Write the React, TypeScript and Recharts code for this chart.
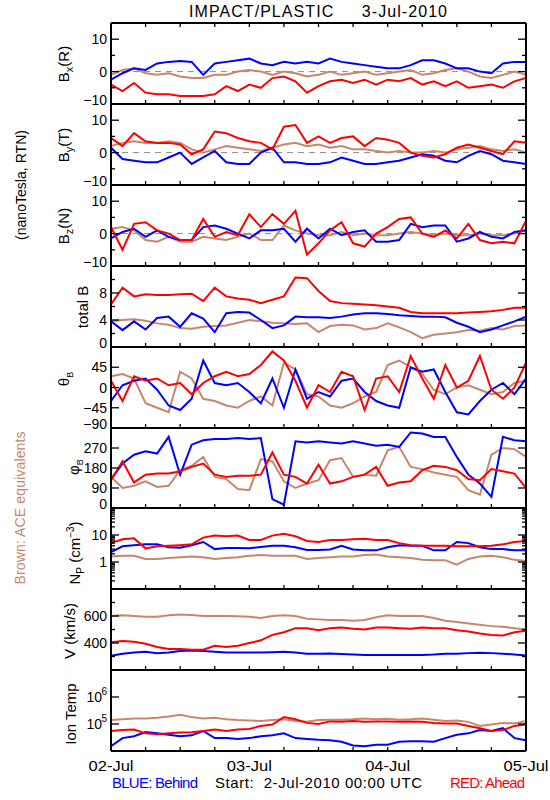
import React from 'react';
import { LineChart, Line, XAxis, YAxis, ReferenceLine } from 'recharts';

// time axis: hours after 2-Jul-2010 00:00 UTC
const hours = [0, 2, 4, 6, 8, 10, 12, 14, 16, 18, 20, 22, 24, 26, 28, 30, 32, 34, 36, 38, 40, 42, 44, 46, 48, 50, 52, 54, 56, 58, 60, 62, 64, 66, 68, 70, 72];
const xTicks = [0, 6, 12, 18, 24, 30, 36, 42, 48, 54, 60, 66, 72];
const dayHours = [0, 24, 48, 72];
const dayLabels = ['02-Jul', '03-Jul', '04-Jul', '05-Jul'];

// Bx (R), nT
const bxBehind = [-2.5, -0.5, 1, 0.5, 2.5, 3, 3.3, 3, -1, 2.5, 3, 3.5, 4, 2.5, 2, 3, 2.5, 3, 2.5, 4, 3, 2.5, 2, 1.5, 1, 1, 2, 3.5, 3.5, 2.5, 1, 1, 0, -0.5, 2.5, 3, 3];
const bxAhead = [-4, -6, -3.5, -6.5, -7, -7, -7.5, -7.5, -7.5, -7, -4.5, -6, -4, -5, -2, -1.5, -3, -6.5, -4.5, -3, -2.5, -3.5, -2.5, -4, -2.5, -3, -2, -4, -3, -4.5, -3, -5, -4.5, -4, -5, -3, -2];
const bxAce = [-1, 0.5, 1, -0.5, -1, -0.5, -1.5, -2, -2, -1, -1, 0, 0.5, 0, -1, 0, -0.5, -1.5, -1, 0, -1, -0.5, 0, -1, -0.5, 0, 0.5, -1, -0.5, 0.5, 1, 0, -1.5, -2, -1, 0, -1];

// By (T), nT
const byBehind = [1.5, -2, -2.5, -3, -3, -1.5, 0, -3.5, -1.5, 0.5, -3, -3.5, -3.5, 0, 1.5, -3, -3, -3.5, -3.5, -3, -1.5, -2.5, -3.5, -3.5, -3, -2.5, -1.5, -0.5, -1, -2.5, -3, -1, 0.5, -0.5, -2.5, -3, -3.5];
const byAhead = [4.5, 2, 6, 3.5, 3, 3, 2.5, -0.5, 1, 6.5, 6, 4.5, 3.5, 3, 1, 8, 8.5, 3, 5, 3, 4.5, 5, 2, 4.5, 4, 3, 0, -1, -1.5, -0.5, 1.5, 2.5, 1.5, 0.5, -0.5, 3.5, 3];
const byAce = [2, 3, 3.5, 3, 3, 3.5, 3, 1, 0, 1, 2, 1.5, 1, 0.5, 1.5, 2.5, 3, 2, 2.5, 1.5, 2, 1, 1, 0.5, 0, 0.5, 0, 0, 0.5, 0, 1, 1.5, 2, 1, 0.5, 1, 0];

// Bz (N), nT
const bzBehind = [-1.5, 0.5, 1.5, -1, 1, -1, -2, -2, 2, 2.5, 1.5, 0, -1.5, 1, 1, 1.5, -2.5, 1.5, -1.5, 1.5, -0.5, 0.5, 1, -2.5, -2.5, -2, 3, 2, 2.5, 2.5, -2.5, -1.5, 0.5, -1, -1.5, 0.5, 1];
const bzAhead = [2, -5, 3, 3.5, 1, 0, -2, -2, 4.5, -1, 0.5, -0.5, 6, 2, 6, 3, 7, -6.5, -3, 1, 3.5, -3, -4, 0, 2, 4.5, 5, 0, -1, 1, -1.5, 3, -2, -3, -2.5, -3, 4];
const bzAce = [1.5, 2, 1, -2, -2.5, -1, -2.5, -2.5, -1, -1.5, -2, -1, 0, -2, -2, 2.5, 1, 0, -0.5, -0.5, 0.5, -0.5, 0, -0.5, -0.5, 0, 0.5, 0, -0.5, 0, -0.5, -0.5, 0, -0.5, -0.5, 0, 1];

// total B, nT
const btBehind = [3.8, 2.5, 3.8, 2.6, 4.3, 4.5, 3, 5, 4.2, 2.2, 5, 5.2, 5.1, 4, 2.8, 3.2, 4.5, 4.4, 4.4, 4.3, 4.5, 4.8, 5, 5, 4.9, 4.7, 4.6, 4.5, 4.5, 4.4, 3.6, 3, 2.2, 2.6, 3.2, 3.8, 4.5];
const btAhead = [6.3, 8.8, 7.5, 7.8, 7.7, 7.7, 7.8, 7.9, 6.8, 8.8, 7.5, 7.2, 7, 6.5, 7, 7.5, 10.3, 10.2, 8.3, 6.8, 6.5, 6.4, 6.3, 6.2, 6, 5.8, 5.2, 5, 5, 5, 5, 5.1, 5.2, 5.3, 5.5, 5.8, 5.8];
const btAce = [3.8, 4, 4.1, 3.9, 3.5, 3.3, 2.8, 2.7, 3, 3.1, 3.2, 3.6, 4, 3.8, 3.6, 3.5, 3.4, 3.5, 2.2, 3.1, 3.3, 3.2, 2.6, 2.8, 3.5, 2.9, 2.2, 1.3, 1.8, 2, 2.2, 2.5, 2.4, 2.8, 2.6, 3.1, 3.2];

// theta B, deg
const thBehind = [-30, 5, 15, 20, -5, -40, -50, -25, 60, 10, 5, 10, -10, -35, 20, -45, 40, -25, -10, -20, 15, 20, -10, -30, -40, -45, 45, 35, 40, -10, -55, -60, -30, -5, 10, -15, 20];
const thAhead = [15, -30, 25, 15, 20, 5, 10, -15, 10, 25, 35, 25, 30, 50, 80, 60, 15, -45, 5, -10, 35, 25, -50, 20, 25, -10, 70, 20, -25, 50, 0, 15, 70, -5, -25, 0, 55];
const thAce = [25, 30, 20, -35, -45, -55, 35, 20, -25, -30, -40, -45, -30, -20, -40, 55, 40, -15, -20, -40, -45, -35, -20, -10, 50, 60, 45, 30, -5, -15, 0, 5, -5, -15, -10, 10, 15];

// phi B, deg
const phBehind = [130, 200, 240, 255, 245, 320, 150, 285, 305, 310, 310, 315, 310, 315, 40, 15, 300, 295, 300, 295, 290, 300, 290, 280, 285, 275, 340, 335, 320, 320, 230, 150, 110, 50, 320, 305, 300];
const phAhead = [125, 210, 115, 150, 155, 155, 165, 185, 200, 150, 140, 145, 145, 150, 250, 150, 140, 110, 195, 110, 120, 140, 150, 185, 100, 115, 120, 170, 190, 185, 170, 130, 125, 175, 165, 155, 90];
const phAce = [140, 90, 100, 120, 95, 100, 170, 190, 230, 140, 130, 85, 80, 220, 210, 120, 90, 110, 125, 215, 225, 140, 150, 145, 260, 275, 185, 175, 160, 150, 140, 80, 60, 240, 270, 265, 230];

// proton density, cm^-3
const npBehind = [2.3, 3.8, 4.2, 4.5, 4.5, 3.5, 3.4, 4.2, 5.5, 3, 3.3, 3.3, 3.2, 3.6, 4, 4, 3.5, 2.8, 2.8, 2.9, 4, 2.9, 2.7, 2.7, 3.5, 4.2, 4, 4, 2.7, 2.7, 5.5, 5, 3.5, 3, 3, 2.7, 2.7];
const npAhead = [5, 7, 7.5, 3.2, 3.8, 4, 4.2, 4.5, 8, 9.5, 9, 9.5, 6.5, 6.5, 9.5, 11, 9, 6, 5.5, 6.5, 6.5, 7, 7.2, 6.5, 6.5, 5, 4.2, 4, 4, 4, 3.8, 3.8, 3.8, 4, 4.5, 5.5, 6];
const npAce = [1.6, 1.7, 1.7, 1.3, 1.3, 1.4, 1.5, 1.6, 1.5, 1.3, 1.4, 1.5, 1.7, 1.8, 1.7, 1.7, 1.7, 1.3, 1.4, 1.5, 1.6, 1.6, 1.8, 1.9, 1.6, 1.5, 1.4, 1.2, 1.15, 1.15, 0.8, 1.3, 1.6, 1.7, 1.5, 1.2, 1.1];

// bulk speed, km/s
const vBehind = [305, 320, 330, 335, 325, 330, 340, 345, 340, 335, 330, 330, 330, 330, 332, 335, 330, 320, 320, 322, 318, 315, 312, 312, 312, 312, 312, 312, 315, 320, 320, 325, 328, 325, 320, 315, 308];
const vAhead = [405, 415, 410, 395, 370, 355, 355, 350, 350, 380, 370, 380, 400, 420, 460, 480, 510, 510, 495, 510, 515, 505, 500, 515, 515, 510, 505, 515, 510, 510, 495, 485, 470, 460, 455, 480, 490];
const vAce = [600, 605, 600, 595, 595, 605, 612, 608, 600, 600, 600, 598, 595, 585, 600, 605, 600, 580, 575, 570, 570, 565, 570, 590, 605, 600, 600, 600, 585, 565, 555, 545, 535, 525, 520, 510, 500];

// ion temperature, K
const tBehind = [15000, 30000, 35000, 50000, 45000, 40000, 35000, 38000, 55000, 30000, 30000, 28000, 30000, 35000, 38000, 45000, 30000, 28000, 26000, 25000, 22000, 16000, 15000, 17000, 17000, 22000, 23000, 23000, 22000, 30000, 40000, 45000, 60000, 55000, 70000, 30000, 25000];
const tAhead = [55000, 60000, 62000, 45000, 42000, 45000, 48000, 50000, 55000, 62000, 55000, 62000, 65000, 85000, 95000, 180000, 150000, 110000, 100000, 125000, 120000, 130000, 120000, 125000, 125000, 120000, 125000, 120000, 110000, 105000, 105000, 85000, 70000, 55000, 60000, 85000, 95000];
const tAce = [140000, 150000, 160000, 160000, 170000, 190000, 220000, 180000, 160000, 170000, 150000, 140000, 135000, 130000, 140000, 150000, 130000, 120000, 140000, 145000, 145000, 150000, 160000, 150000, 155000, 145000, 150000, 160000, 145000, 130000, 135000, 120000, 85000, 95000, 110000, 105000, 130000];

// axis ticks
const bTicks = [-10, -5, 0, 5, 10];
const bLabels = [-10, 0, 10];
const totTicks = [0, 2, 4, 6, 8, 10];
const totLabels = [0, 4, 8];
const thetaTicks = [-90, -45, 0, 45];
const phiTicks = [0, 90, 180, 270];
const npTicks = [0.2, 0.3, 0.4, 0.5, 0.6, 0.7, 0.8, 0.9, 1, 2, 3, 4, 5, 6, 7, 8, 9, 10, 20, 30, 40, 50, 60, 70, 80, 90];
const npLabels = [1, 10];
const vTicks = [300, 400, 500, 600, 700];
const vLabels = [400, 600];
const tempTicks = [1e5, 1e6];

const BLUE = '#0000ff';
const RED = '#ff0000';
const BROWN = '#c8866b';
const FONT = '"Liberation Sans", Arial, sans-serif';

type Panel = {
  behind: number[];
  ahead: number[];
  ace: number[];
  domain: [number, number];
  ticks: number[];
  labels: number[];
  log?: boolean;
  pow?: boolean;
  zero?: boolean;
};

const panels: Panel[] = [
  { behind: bxBehind, ahead: bxAhead, ace: bxAce, domain: [-10, 15], ticks: bTicks, labels: bLabels, zero: true },
  { behind: byBehind, ahead: byAhead, ace: byAce, domain: [-10, 15], ticks: bTicks, labels: bLabels, zero: true },
  { behind: bzBehind, ahead: bzAhead, ace: bzAce, domain: [-10, 15], ticks: bTicks, labels: bLabels, zero: true },
  { behind: btBehind, ahead: btAhead, ace: btAce, domain: [0, 12], ticks: totTicks, labels: totLabels },
  { behind: thBehind, ahead: thAhead, ace: thAce, domain: [-90, 90], ticks: thetaTicks, labels: thetaTicks },
  { behind: phBehind, ahead: phAhead, ace: phAce, domain: [0, 360], ticks: phiTicks, labels: phiTicks },
  { behind: npBehind, ahead: npAhead, ace: npAce, domain: [0.1, 100], ticks: npTicks, labels: npLabels, log: true },
  { behind: vBehind, ahead: vAhead, ace: vAce, domain: [200, 800], ticks: vTicks, labels: vLabels },
  { behind: tBehind, ahead: tAhead, ace: tAce, domain: [1e4, 1e7], ticks: tempTicks, labels: tempTicks, log: true, pow: true },
];

const TOP = 23;
const PANEL_H = 80.9;
const PLOT_W = 415;
const panelTop = (i: number) => Math.round(TOP + i * PANEL_H);
const HOURS_PER_PX = 72 / PLOT_W;

const fmt = (v: number) => (v < 0 ? '\u2212' + Math.abs(v) : String(v));

// y value that lies `px` pixels inside the bottom (or top) edge of a panel
const yInside = (cfg: Panel, h: number, px: number, fromTop: boolean) => {
  const [lo, hi] = cfg.domain;
  if (cfg.log) {
    const f = Math.pow(10, (Math.log10(hi / lo) * px) / h);
    return fromTop ? hi / f : lo * f;
  }
  const d = ((hi - lo) * px) / h;
  return fromTop ? hi - d : lo + d;
};

const yTickLabel = (cfg: Panel) => (p: any) => {
  const v = p.payload.value;
  if (!cfg.labels.includes(v)) return <g />;
  const x = p.x;
  const y = p.y;
  const dy = v === cfg.domain[0] ? -4 : 0;
  if (cfg.pow) {
    return (
      <text x={x - 9} y={y + 5} textAnchor="end" fontSize={14} fontFamily={FONT} fill="#000">
        10
        <tspan x={x - 4} dy={-7} fontSize={10}>{Math.round(Math.log10(v))}</tspan>
      </text>
    );
  }
  return (
    <text x={x - 4} y={y + 5 + dy} textAnchor="end" fontSize={14} fontFamily={FONT} fill="#000">
      {fmt(v)}
    </text>
  );
};

const xTickLabel = (p: any) => {
  const idx = dayHours.indexOf(p.payload.value);
  if (idx < 0) return <g />;
  return (
    <text x={p.x} y={p.y + 20} textAnchor="middle" fontSize={15} fontFamily={FONT} fill="#000"
      textLength={45} lengthAdjust="spacingAndGlyphs">
      {dayLabels[idx]}
    </text>
  );
};

function PanelChart({ cfg, index }: { cfg: Panel; index: number }) {
  const top = panelTop(index);
  const h = panelTop(index + 1) - top;
  const last = index === panels.length - 1;
  const xh = last ? 30 : 0;
  const pad = 5;
  const rows = hours.map((t, i) => ({ t, ace: cfg.ace[i], behind: cfg.behind[i], ahead: cfg.ahead[i] }));
  const [lo, hi] = cfg.domain;
  const tickLen = (v: number) => (cfg.labels.includes(v) ? 8 : 4) * HOURS_PER_PX;
  const yBottomTick = yInside(cfg, h, 4, false);
  const yTopTick = yInside(cfg, h, 4, true);
  const frame = { xAxisId: 'b', yAxisId: 'l', stroke: '#000', ifOverflow: 'visible' as const };

  return (
    <div style={{ position: 'absolute', left: 0, top: top - pad }}>
      <LineChart width={550} height={pad + h + xh + pad} data={rows}
        margin={{ top: pad, right: 24, bottom: pad, left: 0 }}>
        <XAxis xAxisId="b" dataKey="t" type="number" domain={[0, 72]} allowDataOverflow ticks={xTicks}
          interval={0} height={xh} tickSize={0} tickMargin={0} tickLine={false} axisLine={false}
          tick={last ? xTickLabel : false} />
        <YAxis yAxisId="l" type="number" scale={cfg.log ? 'log' : 'linear'} domain={cfg.domain} allowDataOverflow
          ticks={cfg.ticks} interval={0} width={111} tickSize={0} tickMargin={0} tickLine={false}
          axisLine={false} tick={yTickLabel(cfg)} />
        {cfg.zero && (
          <ReferenceLine xAxisId="b" yAxisId="l" y={0} stroke="#8a8a8a" strokeDasharray="6 5" strokeWidth={1} />
        )}
        <Line xAxisId="b" yAxisId="l" dataKey="ace" stroke={BROWN} strokeWidth={2} dot={false} isAnimationActive={false} />
        <Line xAxisId="b" yAxisId="l" dataKey="behind" stroke={BLUE} strokeWidth={2} dot={false} isAnimationActive={false} />
        <Line xAxisId="b" yAxisId="l" dataKey="ahead" stroke={RED} strokeWidth={2} dot={false} isAnimationActive={false} />

        {cfg.ticks.map((v) => (
          <ReferenceLine key={'yl' + v} {...frame} strokeWidth={1.3} segment={[{ x: 0, y: v }, { x: tickLen(v), y: v }]} />
        ))}
        {cfg.ticks.map((v) => (
          <ReferenceLine key={'yr' + v} {...frame} strokeWidth={1.3} segment={[{ x: 72 - tickLen(v), y: v }, { x: 72, y: v }]} />
        ))}
        {xTicks.map((t) => (
          <ReferenceLine key={'xb' + t} {...frame} strokeWidth={1.3} segment={[{ x: t, y: lo }, { x: t, y: yBottomTick }]} />
        ))}
        {index === 0 && xTicks.map((t) => (
          <ReferenceLine key={'xt' + t} {...frame} strokeWidth={1.3} segment={[{ x: t, y: hi }, { x: t, y: yTopTick }]} />
        ))}
        <ReferenceLine {...frame} strokeWidth={2} x={0} />
        <ReferenceLine {...frame} strokeWidth={2} x={72} />
        <ReferenceLine {...frame} strokeWidth={2} y={lo} />
        <ReferenceLine {...frame} strokeWidth={2} y={hi} />
      </LineChart>
    </div>
  );
}

function VLabel({ x, y, children, size = 15, fill = '#000', length }: any) {
  return (
    <text transform={`rotate(-90 ${x} ${y})`} x={x} y={y} dy="0.35em" textAnchor="middle" fontSize={size}
      fontFamily={FONT} fill={fill} textLength={length} lengthAdjust={length ? 'spacing' : undefined}>
      {children}
    </text>
  );
}

export default function App() {
  return (
    <div style={{ position: 'absolute', left: 0, top: 0, width: 550, height: 800, background: '#fff', overflow: 'hidden' }}>
      {panels.map((cfg, i) => (
        <PanelChart key={i} cfg={cfg} index={i} />
      ))}
      <svg width={550} height={800} style={{ position: 'absolute', left: 0, top: 0, pointerEvents: 'none' }}>
        <text x={318} y={17} textAnchor="middle" fontSize={16} fontFamily={FONT} xmlSpace="preserve"
          style={{ whiteSpace: 'pre' }} textLength={258} lengthAdjust="spacing">
          {'IMPACT/PLASTIC     3-Jul-2010'}
        </text>

        <VLabel x={21} y={185} size={14} length={110}>(nanoTesla, RTN)</VLabel>
        <VLabel x={20} y={508} size={14} length={153} fill={BROWN}>Brown: ACE equivalents</VLabel>

        <VLabel x={64} y={64}>B<tspan dy={4} fontSize={11}>x</tspan><tspan dy={-4}>(R)</tspan></VLabel>
        <VLabel x={64} y={145}>B<tspan dy={4} fontSize={11}>y</tspan><tspan dy={-4}>(T)</tspan></VLabel>
        <VLabel x={64} y={226}>B<tspan dy={4} fontSize={11}>z</tspan><tspan dy={-4}>(N)</tspan></VLabel>
        <VLabel x={83} y={307}>total B</VLabel>
        <VLabel x={64} y={379}>θ<tspan dy={4} fontSize={9}>B</tspan></VLabel>
        <VLabel x={74} y={467}>φ<tspan dy={4} fontSize={9}>B</tspan></VLabel>
        <VLabel x={75} y={553}>N<tspan dy={4} fontSize={10}>P</tspan><tspan dy={-4}> (cm</tspan><tspan dy={-6} fontSize={10}>−3</tspan><tspan dy={6}>)</tspan></VLabel>
        <VLabel x={70} y={631}>V (km/s)</VLabel>
        <VLabel x={71} y={714}>Ion Temp</VLabel>

        <text x={112} y={788} fontSize={15} fontFamily={FONT} fill={BLUE} textLength={86} lengthAdjust="spacing">
          BLUE: Behind
        </text>
        <text x={215} y={788} fontSize={15} fontFamily={FONT} fill="#000" xmlSpace="preserve"
          style={{ whiteSpace: 'pre' }} textLength={207} lengthAdjust="spacing">
          {'Start:  2-Jul-2010 00:00 UTC'}
        </text>
        <text x={450} y={788} fontSize={15} fontFamily={FONT} fill={RED} textLength={75} lengthAdjust="spacing">
          RED: Ahead
        </text>
      </svg>
    </div>
  );
}
